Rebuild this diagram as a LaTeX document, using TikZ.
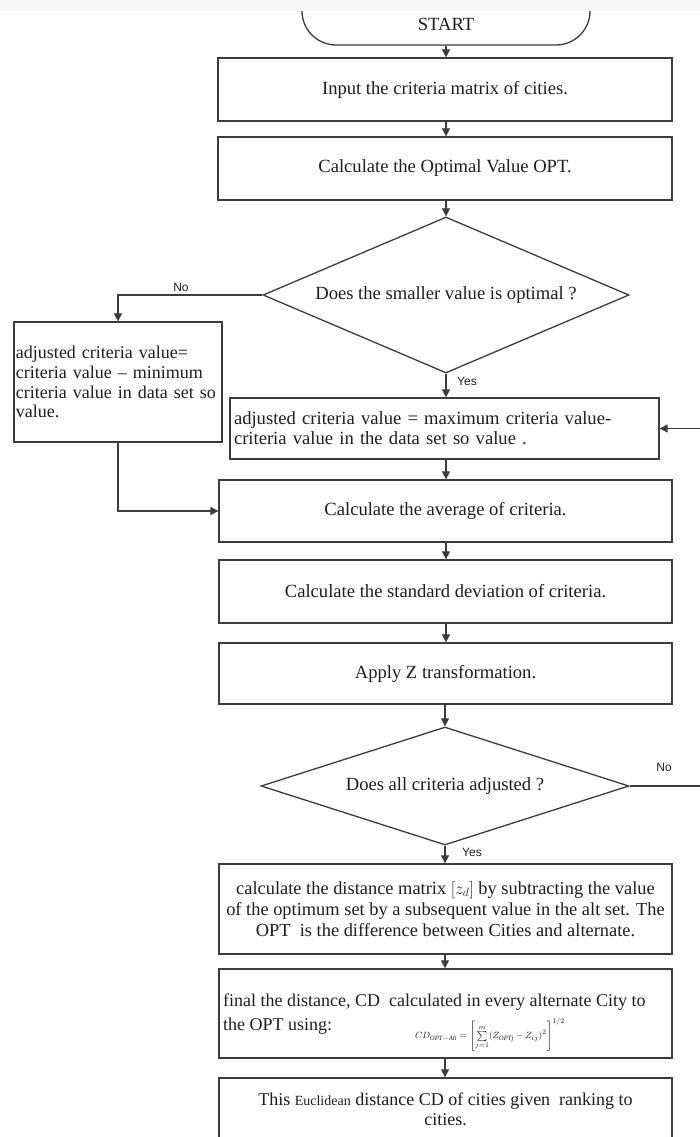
\documentclass[tikz,border=0pt]{standalone}
\usepackage{fontspec}
\setmainfont{Liberation Serif}
\newfontfamily\lsans{Liberation Sans}
\usetikzlibrary{shapes.geometric,arrows.meta}
\definecolor{ln}{HTML}{3C3C3C}
\definecolor{tx}{HTML}{1E1E1E}
\begin{document}
\begin{tikzpicture}[x=1pt,y=-1pt,
  font=\fontsize{18.6}{20}\selectfont, text=tx,
  box/.style={draw=ln, line width=1.3pt, rectangle, inner sep=0pt, align=center},
  dia/.style={draw=ln, line width=1.3pt, diamond, inner sep=0pt, align=center},
  arr/.style={draw=ln, line width=1.2pt, -{Triangle[length=8pt,width=8pt]}},
  lbl/.style={font=\lsans\fontsize{12}{14}\selectfont, text=tx, inner sep=0pt},
  line8/.style={anchor=base west, inner sep=0pt, font=\fontsize{18}{20}\selectfont}
]
\path[use as bounding box] (0,0) rectangle (700,1137);
\clip (0,0) rectangle (700,1137);
\fill[white] (0,0) rectangle (700,1137);

% START terminator
\node[draw=ln, line width=1.3pt, rounded corners=34, minimum width=288, minimum height=66, inner sep=0pt] (start) at (446,12) {};
\fill[gray!7] (0,0) rectangle (700,11);
\node (starttext) at (446,24) {START};

\node[box, minimum width=454, minimum height=63] (b1) at (445,89.5) {Input the criteria matrix of cities.};
\node[box, minimum width=454, minimum height=63] (b2) at (445,168.5) {Calculate the Optimal Value OPT.};

\node[dia, aspect=2.35, minimum width=366, minimum height=156] (d1) at (446,295) {Does the smaller value is optimal ?};

\node[box, minimum width=208, minimum height=120, text width=204, align=left, font=\fontsize{18}{19.8}\selectfont] (lb) at (118,382)
  {adjusted criteria value=\\criteria value – minimum\\criteria value in data set so\\value.};

\node[box, minimum width=429, minimum height=61, text width=421, align=left] (b3) at (444.5,428.5)
  {adjusted criteria value = maximum criteria value-\\criteria value in the data set so value .};

\node[box, minimum width=453, minimum height=62] (b4) at (445.5,511) {Calculate the average of criteria.};
\node[box, minimum width=453, minimum height=63] (b5) at (445.5,591.5) {Calculate the standard deviation of criteria.};
\node[box, minimum width=453, minimum height=61] (b6) at (445.5,673.5) {Apply Z transformation.};

\node[dia, aspect=3.1, minimum width=368, minimum height=118] (d2) at (445,786) {Does all criteria adjusted ?};

\node[box, minimum width=453, minimum height=90, font=\fontsize{18.4}{21}\selectfont] (b7) at (445.5,909)
  {calculate the distance matrix $[z_d]$ by subtracting the value\\of the optimum set by a subsequent value in the alt set. The\\OPT\ \ is the difference between Cities and alternate.};

\node[box, minimum width=453, minimum height=89] (b8) at (445.5,1013.5) {};
\node[line8] (b8a) at (223,1006) {final the distance, CD\ \ calculated in every alternate City to};
\node[line8] (b8b) at (223,1030) {the OPT using:};
\node[font=\fontsize{9.5}{11}\selectfont, inner sep=0pt] (f) at (490,1035)
  {$CD_{\mathit{OPT-Alt}} = \Biggl[\sum\limits_{j=1}^{m} (Z_{\mathit{OPTj}} - Z_{ij})^2\Biggr]^{1/2}$};

\node[box, minimum width=453, minimum height=62, font=\fontsize{18}{20}\selectfont] (b9) at (445.5,1109)
  {This {\fontsize{14}{20}\selectfont Euclidean} distance CD of cities given\ \ ranking to\\cities.};

% labels
\node[lbl] (no1) at (181,287) {No};
\node[lbl] (yes1) at (467,381) {Yes};
\node[lbl] (no2) at (664,767) {No};
\node[lbl] (yes2) at (472,852) {Yes};

% connectors
\draw[arr] (start.south) -- (start.south |- b1.north);
\draw[arr] (b1.south -| start.south) -- (b2.north -| start.south);
\draw[arr] (b2.south -| d1.north) -- (d1.north);
\draw[arr] (d1.west) -| (lb.north);
\draw[arr] (d1.south) -- (d1.south |- b3.north);
\draw[arr] (lb.south) |- (b4.west);
\draw[arr] (b3.south -| d1.south) -- (b4.north -| d1.south);
\draw[arr] (b4.south -| d1.south) -- (b5.north -| d1.south);
\draw[arr] (b5.south -| d1.south) -- (b6.north -| d1.south);
\draw[arr] (b6.south -| d2.north) -- (d2.north);
\draw[arr] (d2.south) -- (d2.south |- b7.north);
\draw[arr] (b7.south -| d2.south) -- (b8.north -| d2.south);
\draw[arr] (b8.south -| d2.south) -- (b9.north -| d2.south);
\draw[arr] (d2.east) -- ++(100,0) |- (b3.east);
\end{tikzpicture}
\end{document}
